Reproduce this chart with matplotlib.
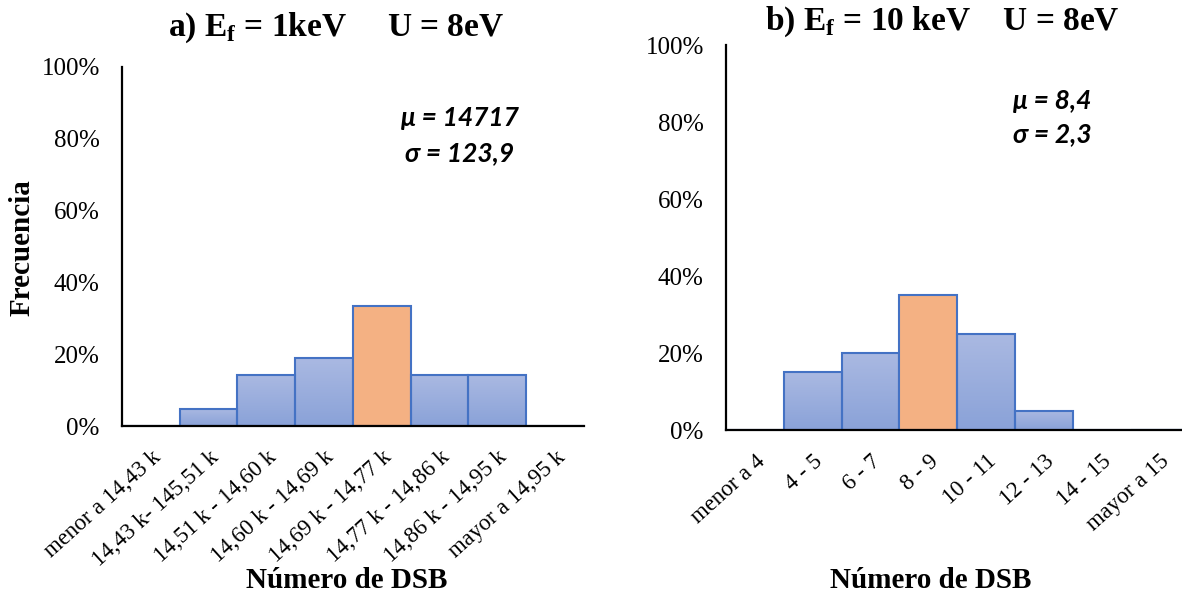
import numpy as np
import matplotlib.pyplot as plt
from matplotlib.colors import LinearSegmentedColormap
from matplotlib.ticker import PercentFormatter

# data (frequencies in %)
cats_a = ["menor a 14,43 k", "14,43 k- 145,51 k", "14,51 k - 14,60 k", "14,60 k - 14,69 k",
          "14,69 k - 14,77 k", "14,77 k - 14,86 k", "14,86 k - 14,95 k", "mayor a 14,95 k"]
freq_a = [0, 4.76, 14.29, 19.05, 33.33, 14.29, 14.29, 0]

cats_b = ["menor a 4", "4 - 5", "6 - 7", "8 - 9", "10 - 11", "12 - 13", "14 - 15", "mayor a 15"]
freq_b = [0, 15, 20, 35, 25, 5, 0, 0]

highlight_a = 4
highlight_b = 3

plt.rcParams['font.family'] = ['Liberation Serif', 'DejaVu Serif']
plt.rcParams['mathtext.fontset'] = 'custom'
plt.rcParams['mathtext.rm'] = 'Liberation Serif'
plt.rcParams['mathtext.bf'] = 'Liberation Serif:bold'

blue_grad = LinearSegmentedColormap.from_list("g", ["#8AA2D8", "#AAB9E2"])
edge = "#4472C4"
orange = "#F4B183"

fig = plt.figure(figsize=(11.82, 5.97), dpi=100)
ax1 = fig.add_axes([0.1032, 0.2864, 0.3908, 0.6014])
ax2 = fig.add_axes([0.6142, 0.2797, 0.3912, 0.6449])


def draw(ax, cats, freq, hi):
    x = np.arange(len(cats))
    bars = ax.bar(x, freq, width=1.0, color="none", edgecolor=edge, linewidth=1.5, zorder=3)
    for i, b in enumerate(bars):
        if freq[i] <= 0:
            continue
        if i == hi:
            b.set_facecolor(orange)
        else:
            # vertical gradient fill like the Excel bars
            grad = np.linspace(0, 1, 64).reshape(-1, 1)
            im = ax.imshow(grad, cmap=blue_grad, origin="lower", aspect="auto",
                           extent=[b.get_x(), b.get_x() + b.get_width(), 0, b.get_height()],
                           zorder=2)
            im.set_clip_path(b)
    ax.set_xlim(-0.5, len(cats) - 0.5)
    ax.set_ylim(0, 100)
    ax.set_yticks([0, 20, 40, 60, 80, 100])
    ax.yaxis.set_major_formatter(PercentFormatter(decimals=0))
    ax.set_xticks(x)
    ax.set_xticklabels(cats, rotation=42, ha="right", va="top", rotation_mode="anchor",
                       fontsize=16.5)
    ax.tick_params(axis="both", length=0)
    ax.tick_params(axis="y", labelsize=18, pad=16)
    ax.tick_params(axis="x", pad=15)
    for s in ["top", "right"]:
        ax.spines[s].set_visible(False)
    for s in ["left", "bottom"]:
        ax.spines[s].set_linewidth(1.6)
        ax.spines[s].set_zorder(4)


draw(ax1, cats_a, freq_a, highlight_a)
draw(ax2, cats_b, freq_b, highlight_b)

fig.text(0.0186, 0.586, "Frecuencia", fontsize=21, fontweight="bold", rotation=90,
         ha="center", va="center")
fig.text(0.2936, 0.027, "Número de DSB", fontsize=21, fontweight="bold", ha="center", va="center")
fig.text(0.7877, 0.027, "Número de DSB", fontsize=21, fontweight="bold", ha="center", va="center")

fig.text(0.284, 0.953, r"a) E$_\mathbf{f}$ = 1keV     U = 8eV", fontsize=24, fontweight="bold",
         ha="center", va="center")
fig.text(0.797, 0.963, r"b) E$_\mathbf{f}$ = 10 keV    U = 8eV", fontsize=24, fontweight="bold",
         ha="center", va="center")

ann = dict(fontsize=19, fontweight="bold", fontstyle="italic", family=["Lato", "DejaVu Sans"],
           ha="center", va="center")
fig.text(0.389, 0.802, "μ = 14717", **ann)
fig.text(0.389, 0.743, "σ = 123,9", **ann)
fig.text(0.890, 0.830, "μ = 8,4", **ann)
fig.text(0.890, 0.775, "σ = 2,3", **ann)

fig.savefig("out.png", dpi=100)
